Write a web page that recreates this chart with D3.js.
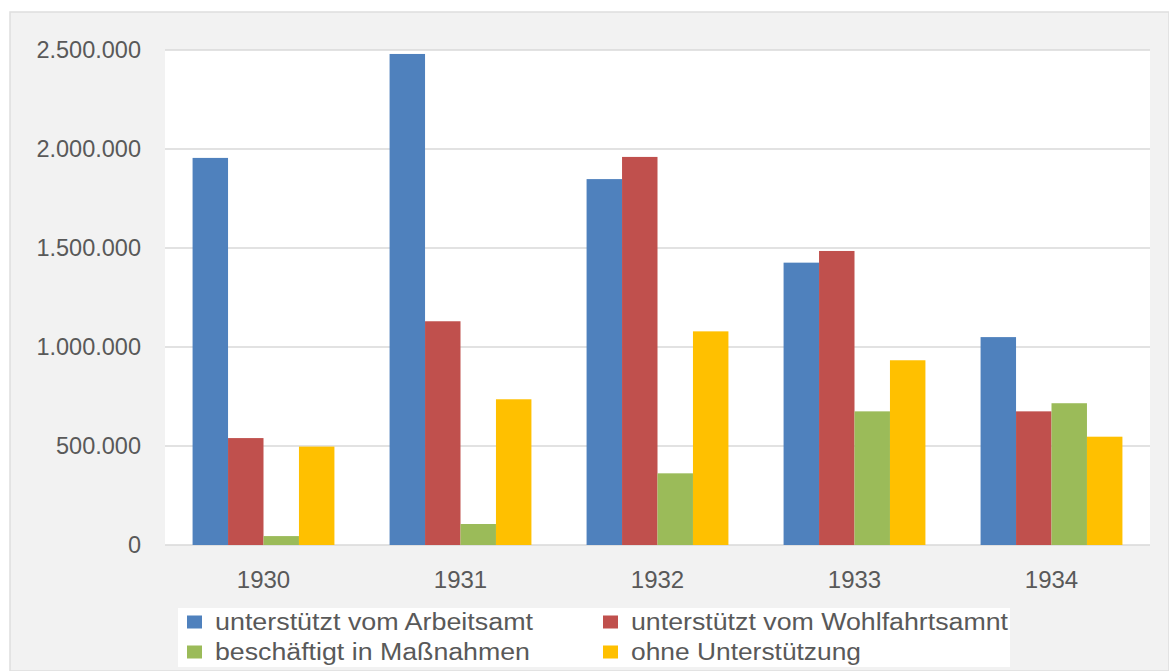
<!DOCTYPE html>
<html><head><meta charset="utf-8">
<script src="https://cdn.jsdelivr.net/npm/d3@7"></script>
<style>html,body{margin:0;padding:0;background:#fff;}svg{display:block;}</style>
</head><body>
<script>
const years = ["1930","1931","1932","1933","1934"];
const seriesNames = ["unterstützt vom Arbeitsamt","unterstützt vom Wohlfahrtsamnt","beschäftigt in Maßnahmen","ohne Unterstützung"];
const arbeitsamt   = [1955000, 2480000, 1848000, 1426000, 1050000];
const wohlfahrt    = [540000, 1130000, 1960000, 1485000, 675000];
const massnahmen   = [45000, 106000, 362000, 675000, 716000];
const ohne         = [497000, 736000, 1079000, 933000, 547000];
const yTicks = [0, 500000, 1000000, 1500000, 2000000, 2500000];
const colors = ["#4f81bd","#c0504d","#9bbb59","#ffc000"];

const seriesValues = [arbeitsamt, wohlfahrt, massnahmen, ohne];
const W = 1169, H = 671;
const svg = d3.select("body").append("svg").attr("width", W).attr("height", H);
svg.append("rect").attr("x",10).attr("y",12).attr("width",W-10).attr("height",H-12)
  .attr("fill","#f2f2f2").attr("stroke","#dedede").attr("stroke-width",1.5);

const plot = {l:165, r:1150, t:50, b:545};
svg.append("rect").attr("x",plot.l).attr("y",plot.t).attr("width",plot.r-plot.l).attr("height",plot.b-plot.t).attr("fill","#fff");

const x0 = d3.scaleBand().domain(years).range([plot.l, plot.r]).paddingInner(0.28).paddingOuter(0.14);
const x1 = d3.scaleBand().domain(d3.range(4)).range([0, x0.bandwidth()]);
const y = d3.scaleLinear().domain([0, 2500000]).range([plot.b, plot.t]);

const fmt = v => d3.format(",")(v).replace(/,/g, ".");
const font = "'Liberation Sans', Arial, sans-serif";
const textCol = "#595959";

// gridlines
svg.append("g").selectAll("line").data(yTicks).join("line")
  .attr("x1", plot.l).attr("x2", plot.r)
  .attr("y1", d => y(d)).attr("y2", d => y(d))
  .attr("stroke", "#d9d9d9").attr("stroke-width", 1.5);

// y axis
const yAxis = d3.axisLeft(y).tickValues(yTicks).tickFormat(fmt).tickSize(0).tickPadding(24);
const ya = svg.append("g").attr("transform", `translate(${plot.l},0)`).call(yAxis);
ya.select(".domain").remove();
ya.selectAll("text").attr("font-family", font).attr("font-size", 23.5).attr("fill", textCol);

// x axis
const xAxis = d3.axisBottom(x0).tickSize(0).tickPadding(26);
const xa = svg.append("g").attr("transform", `translate(0,${plot.b})`).call(xAxis);
xa.select(".domain").remove();
xa.selectAll("text").attr("font-family", font).attr("font-size", 24).attr("fill", textCol);

// bars
const groups = svg.append("g").selectAll("g").data(years).join("g")
  .attr("transform", d => `translate(${x0(d)},0)`);
groups.selectAll("rect").data((d, i) => seriesValues.map((s, k) => ({k, v: s[i]}))).join("rect")
  .attr("x", d => x1(d.k)).attr("width", x1.bandwidth())
  .attr("y", d => y(d.v)).attr("height", d => y(0) - y(d.v))
  .attr("fill", d => colors[d.k]);

// legend
const leg = svg.append("g");
leg.append("rect").attr("x",178).attr("y",608).attr("width",832).attr("height",59).attr("fill","#fff");
const legPos = [[187,622],[603,622],[187,652],[603,652]];
const legLen = [318, 377, 315, 230];
seriesNames.forEach((n, k) => {
  const [lx, ly] = legPos[k];
  leg.append("rect").attr("x", lx).attr("y", ly - 6.5).attr("width", 15).attr("height", 13).attr("fill", colors[k]);
  leg.append("text").attr("x", lx + 28).attr("y", ly).attr("dy", "0.35em")
    .attr("font-family", font).attr("font-size", 23).attr("fill", textCol)
    .attr("textLength", legLen[k]).attr("lengthAdjust", "spacingAndGlyphs").text(n);
});
</script>
</body></html>
